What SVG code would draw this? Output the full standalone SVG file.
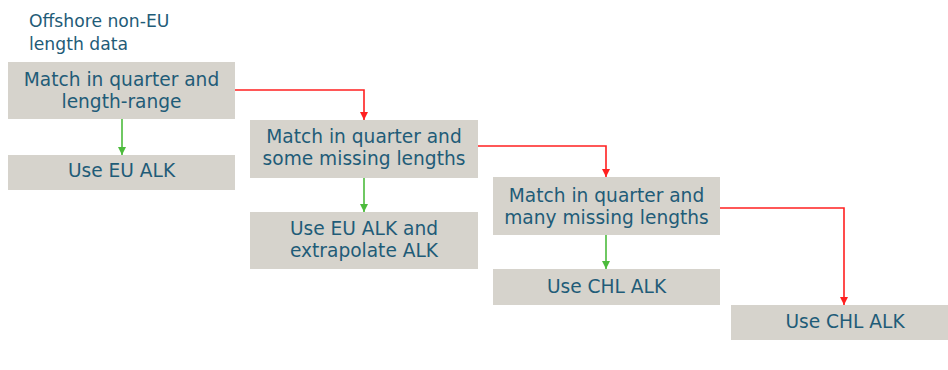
<svg xmlns="http://www.w3.org/2000/svg" width="948" height="370" viewBox="0 0 948 370">
  <style>
    .box { fill: #d6d3cc; }
    .lbl { font-family: "DejaVu Sans", Verdana, sans-serif; font-size: 18.6px; fill: #1f5c78; text-anchor: middle; }
    .title { font-family: "DejaVu Sans", Verdana, sans-serif; font-size: 17.2px; fill: #1f5c78; }
    .no { fill: none; stroke: #ff2020; stroke-width: 1.6; }
    .yes { fill: none; stroke: #4cbb3c; stroke-width: 1.6; }
  </style>
  <defs>
    <marker id="arrRed" viewBox="0 0 10 10" refX="10" refY="5" markerWidth="8" markerHeight="8" markerUnits="userSpaceOnUse" orient="auto">
      <path d="M0,0 L10,5 L0,10 Z" fill="#ff2020"/>
    </marker>
    <marker id="arrGreen" viewBox="0 0 10 10" refX="10" refY="5" markerWidth="8" markerHeight="8" markerUnits="userSpaceOnUse" orient="auto">
      <path d="M0,0 L10,5 L0,10 Z" fill="#4cbb3c"/>
    </marker>
  </defs>
  <rect width="948" height="370" fill="#ffffff"/>

  <text class="title" x="29" y="27">Offshore non-EU</text>
  <text class="title" x="29" y="50">length data</text>

  <g id="connectors">
    <path class="no" d="M235,90 H364 V120" marker-end="url(#arrRed)"/>
    <path class="yes" d="M122,119 V155" marker-end="url(#arrGreen)"/>
    <path class="no" d="M478,146 H606 V177" marker-end="url(#arrRed)"/>
    <path class="yes" d="M364,178 V212" marker-end="url(#arrGreen)"/>
    <path class="no" d="M720,208 H844 V305" marker-end="url(#arrRed)"/>
    <path class="yes" d="M606,235 V269" marker-end="url(#arrGreen)"/>
  </g>

  <g id="match-range">
    <rect class="box" x="8" y="62" width="227" height="57"/>
    <text class="lbl" x="121.5" y="86">Match in quarter and</text>
    <text class="lbl" x="121.5" y="108">length-range</text>
  </g>
  <g id="use-eu">
    <rect class="box" x="8" y="155" width="227" height="35"/>
    <text class="lbl" x="121.5" y="177">Use EU ALK</text>
  </g>
  <g id="match-some">
    <rect class="box" x="250" y="120" width="228" height="58"/>
    <text class="lbl" x="364" y="143">Match in quarter and</text>
    <text class="lbl" x="364" y="165">some missing lengths</text>
  </g>
  <g id="use-eu-extrap">
    <rect class="box" x="250" y="212" width="228" height="57"/>
    <text class="lbl" x="364" y="235">Use EU ALK and</text>
    <text class="lbl" x="364" y="257">extrapolate ALK</text>
  </g>
  <g id="match-many">
    <rect class="box" x="493" y="177" width="227" height="58"/>
    <text class="lbl" x="606.5" y="202">Match in quarter and</text>
    <text class="lbl" x="606.5" y="224">many missing lengths</text>
  </g>
  <g id="use-chl-1">
    <rect class="box" x="493" y="269" width="227" height="36"/>
    <text class="lbl" x="606.5" y="293">Use CHL ALK</text>
  </g>
  <g id="use-chl-2">
    <rect class="box" x="731" y="305" width="228" height="35"/>
    <text class="lbl" x="845" y="328">Use CHL ALK</text>
  </g>
</svg>
